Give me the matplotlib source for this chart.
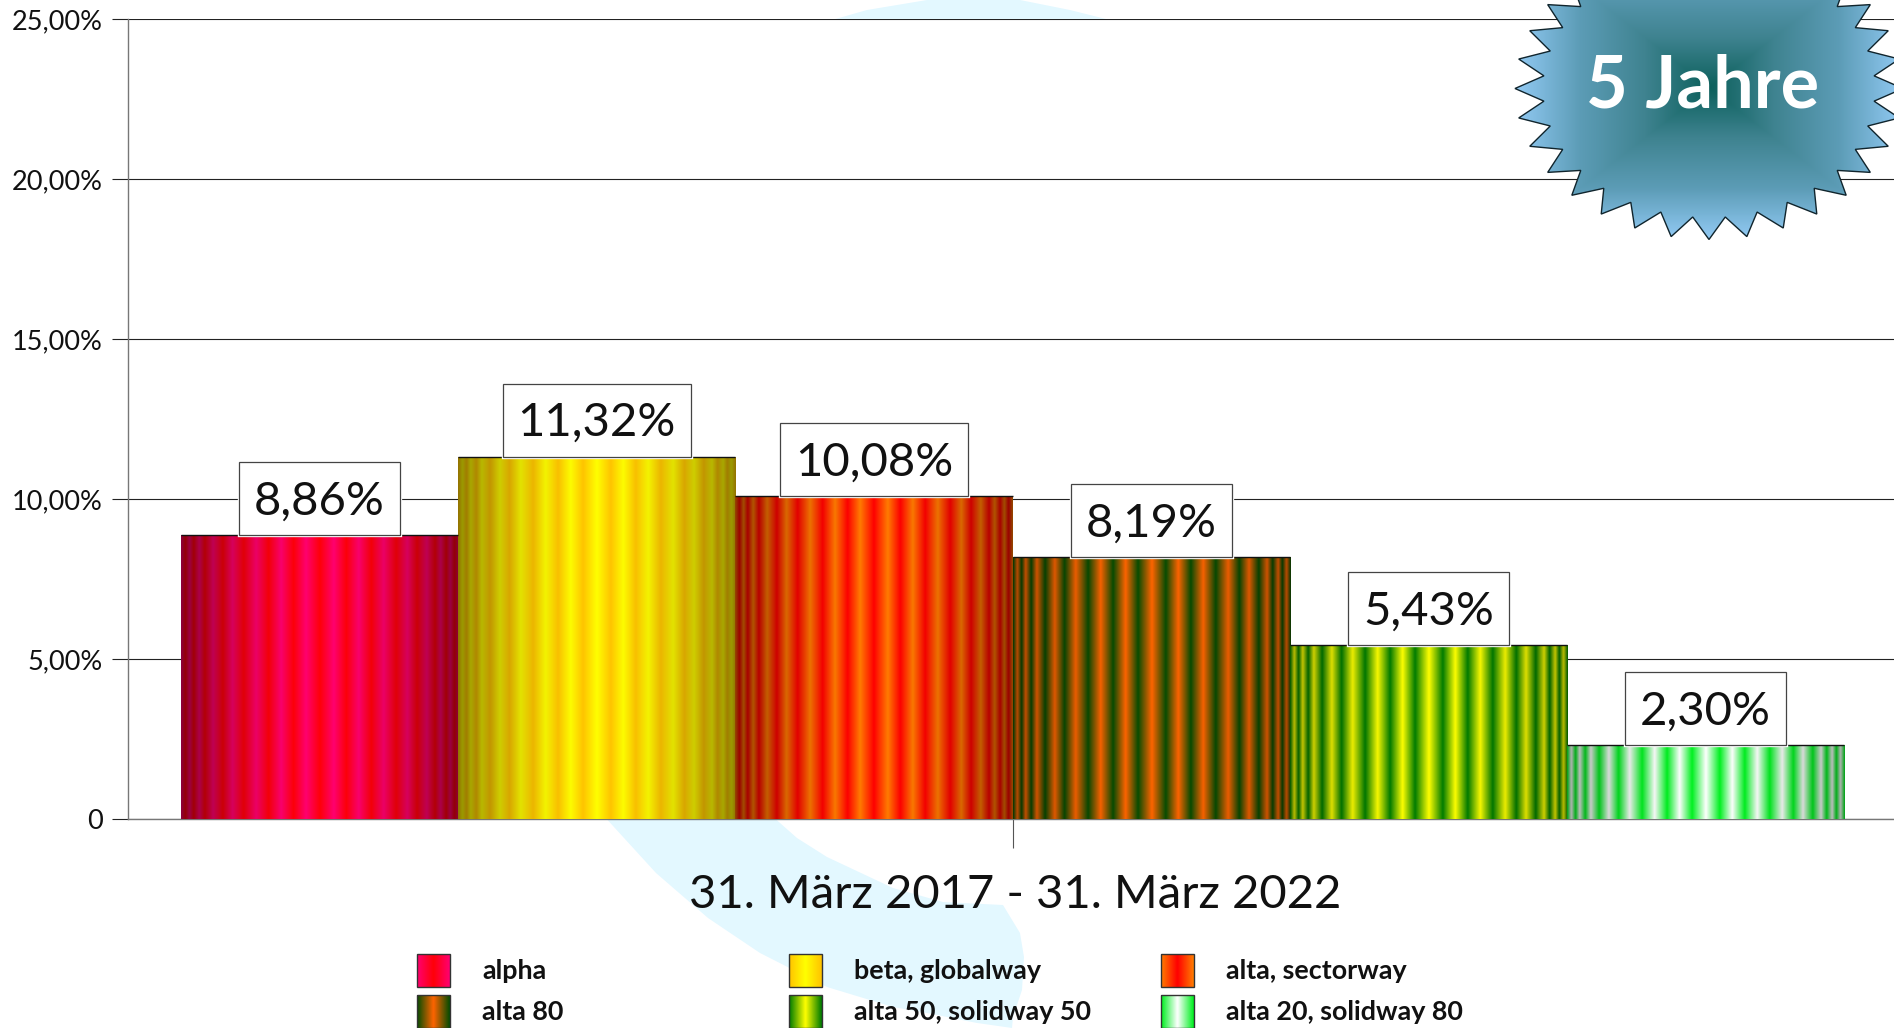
import numpy as np
import matplotlib
matplotlib.use('Agg')
import matplotlib.pyplot as plt
import matplotlib.patheffects as pe
from matplotlib.colors import LinearSegmentedColormap, to_rgb
from matplotlib.patches import Polygon, Rectangle

names = ['alpha', 'beta, globalway', 'alta, sectorway',
         'alta 80', 'alta 50, solidway 50', 'alta 20, solidway 80']
values = [8.86, 11.32, 10.08, 8.19, 5.43, 2.30]
value_labels = ['8,86%', '11,32%', '10,08%', '8,19%', '5,43%', '2,30%']
y_ticks = [0, 5, 10, 15, 20, 25]
y_labels = ['0', '5,00%', '10,00%', '15,00%', '20,00%', '25,00%']
period = '31. März 2017 - 31. März 2022'
badge = '5 Jahre'

# fill colours, middle of the stripe / edge of the stripe
mid_cols = ['#ff0008', '#ffff00', '#ff0000', '#ff6400', '#ffff00', '#ffffff']
edge_cols = ['#ff0070', '#ffc400', '#ff7c00', '#064c02', '#007c00', '#00f020']
dim_edge = [0.55, 0.58, 0.58, 0.72, 0.72, 0.68]

font = 'Lato'
W, H = 1894, 1028
x0, y_top, y_zero = 128, 19, 818.8
bar_px = 277.2
bar_left = 181

# stripe peaks, as fraction of the half bar from the middle
peaks = [0, .19, .37, .55, .70, .83, .91, .97]
troughs = [.10, .28, .46, .63, .77, .87, .94, 1.0]


def bar_fill(mid, edge, dim, n=560):
    d = np.abs(np.linspace(-1, 1, n))
    pos = np.sort(peaks + troughs)
    tri = np.interp(d, pos, [1, 0] * 8)
    mid, edge = np.array(to_rgb(mid)), np.array(to_rgb(edge))
    col = edge + (mid - edge) * tri[:, None]
    bright = 1 - (1 - dim) * d ** 2.2
    return (col * bright[:, None])[None, :, :]


fig = plt.figure(figsize=(W / 100, H / 100), dpi=100, facecolor='white')

# swoosh behind the plot
bg = fig.add_axes([0, 0, 1, 1], zorder=0)
bg.set_xlim(0, W)
bg.set_ylim(H, 0)
bg.axis('off')
swoosh_low = [(603, 815), (656, 873), (708, 918), (760, 953), (827, 987), (893, 1007),
              (927, 1013), (977, 1023), (1012, 1028), (1013, 1017), (1022, 990), (1024, 957),
              (1020, 933), (1003, 905), (943, 902), (893, 888), (827, 857), (797, 838), (771, 815)]
swoosh_top = [(825, 22), (867, 10), (927, 0), (1020, 0), (1070, 10), (1118, 22)]
bg.add_patch(Polygon(swoosh_low, fc='#e3f8ff', ec='none'))
bg.add_patch(Polygon(swoosh_top, fc='#e3f8ff', ec='none'))

ax = fig.add_axes([x0 / W, 1 - y_zero / H, (W - x0) / W, (y_zero - y_top) / H], zorder=1)
ax.set_facecolor('white')

xs = np.arange(len(values))
bars = ax.bar(xs, values, width=1, color='none', edgecolor='none', zorder=4)
for i, rect in enumerate(bars):
    im = ax.imshow(bar_fill(mid_cols[i], edge_cols[i], dim_edge[i]), aspect='auto',
                   extent=(i - 0.5, i + 0.5, 0, values[i]), zorder=3, interpolation='bilinear')
    im.set_clip_path(rect)
ax.hlines(values, xs - 0.5, xs + 0.5, color='#111111', linewidth=1.0, zorder=4)
ax.set_xlim(-0.5 - (bar_left - x0) / bar_px, -0.5 + (W - bar_left) / bar_px)
ax.set_ylim(0, 25)

ax.set_yticks(y_ticks)
ax.set_yticklabels(y_labels, fontsize=19.5, family=font, color='#111111')
ax.tick_params(axis='y', length=11.5, width=0.8, color='#222222', pad=6.5)
ax.set_xticks([2.5])
ax.set_xticklabels([''])
ax.tick_params(axis='x', length=21, width=0.8, color='#555555')
ax.grid(axis='y', color='#222222', linewidth=0.8, zorder=1)
ax.set_axisbelow(True)
for s in ['top', 'right']:
    ax.spines[s].set_visible(False)
for s in ['left', 'bottom']:
    ax.spines[s].set_color('#777777')
    ax.spines[s].set_linewidth(1)

# value labels, white box measured from the text and stood on the bar top
rend = fig.canvas.get_renderer()
for i, lab in enumerate(value_labels):
    t = ax.annotate(lab, (xs[i], values[i]), xytext=(0, 9), textcoords='offset points',
                    ha='center', va='bottom', fontsize=34, family=font, color='#111111', zorder=7)
    ext = t.get_window_extent(rend)
    top = ax.transData.transform((xs[i], values[i]))[1]
    box = Rectangle((ext.x0 - 15, top), ext.width + 30, 73, transform=None,
                    fc='white', ec='#444444', lw=0.9, zorder=6, clip_on=False)
    box.set_path_effects([pe.withStroke(linewidth=2.4, foreground='white')])
    ax.add_artist(box)

# overlay for badge, period text and legend
ov = fig.add_axes([0, 0, 1, 1], zorder=5)
ov.axis('off')

# badge
cx, cy, rx, ry = 1709, 88.5, 194, 151
ang = np.arange(64) * np.pi / 32
rad = np.where(np.arange(64) % 2 == 0, 1.0, 0.855)
star = Polygon(np.c_[cx + rx * rad * np.cos(ang), cy + ry * rad * np.sin(ang)],
               fc='none', ec='#10242c', lw=1.0, zorder=3)
ov.add_patch(star)
gx, gy = np.meshgrid(np.linspace(-1, 1, 500), np.linspace(-1, 1, 500))
badge_cmap = LinearSegmentedColormap.from_list('badge', ['#0c605c', '#3f8390', '#5c9cb6', '#92caf4'])
bim = ov.imshow(np.maximum(np.abs(gx), np.abs(gy)), cmap=badge_cmap, vmin=0, vmax=1, aspect='auto',
                extent=(cx - rx, cx + rx, cy + ry, cy - ry), zorder=2)
bim.set_clip_path(star)
ov.text(1703, 107, badge, color='white', fontsize=52, weight='bold', family=font,
        ha='center', va='baseline', zorder=4)

ov.text(1015, 908, period, fontsize=33.9, family=font, color='#111111', ha='center', va='baseline')

# legend
col_x = [417, 789, 1161]
row_y = [954, 995]
for i, name in enumerate(names):
    lx, ly = col_x[i % 3], row_y[i // 3]
    g = np.abs(np.linspace(-1, 1, 40))[None, :, None]
    fill = np.array(to_rgb(edge_cols[i])) * g + np.array(to_rgb(mid_cols[i])) * (1 - g)
    ov.imshow(fill, aspect='auto', extent=(lx, lx + 33, ly + 33, ly), zorder=2)
    ov.add_patch(Rectangle((lx, ly), 33, 33, fc='none', ec='#333333', lw=1.0, zorder=3))
    ov.text(lx + 65, ly + 25, name, fontsize=19.4, weight='bold', family=font, color='#111111',
            va='baseline', ha='left')
ov.set_xlim(0, W)
ov.set_ylim(H, 0)

fig.savefig('out.png', dpi=100)
